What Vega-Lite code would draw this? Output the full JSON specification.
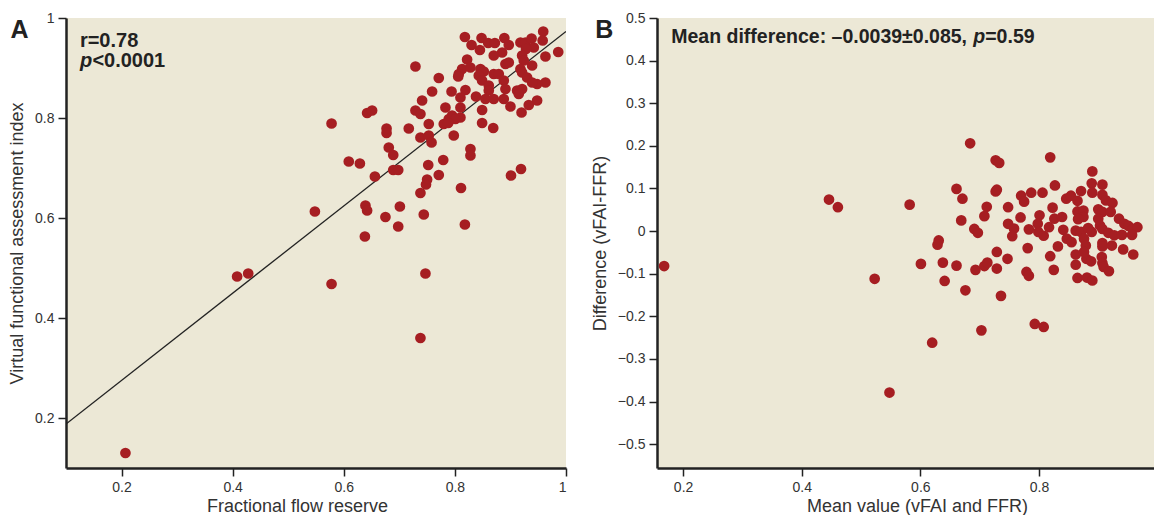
{
  "$schema": "https://vega.github.io/schema/vega-lite/v6.json",
  "padding": {"left": 8, "top": 11, "right": 0, "bottom": 0},
  "background": "white",
  "spacing": 24,
  "datasets": {
    "ptsA": [
      {"ffr":0.818,"vfai":0.962},{"ffr":0.848,"vfai":0.960},{"ffr":0.830,"vfai":0.946},{"ffr":0.845,"vfai":0.936},{"ffr":0.860,"vfai":0.950},{"ffr":0.872,"vfai":0.950},{"ffr":0.889,"vfai":0.960},{"ffr":0.897,"vfai":0.946},{"ffr":0.885,"vfai":0.931},{"ffr":0.870,"vfai":0.925},
      {"ffr":0.918,"vfai":0.951},{"ffr":0.927,"vfai":0.951},{"ffr":0.938,"vfai":0.959},{"ffr":0.959,"vfai":0.973},{"ffr":0.958,"vfai":0.955},{"ffr":0.942,"vfai":0.941},{"ffr":0.928,"vfai":0.938},{"ffr":0.986,"vfai":0.932},{"ffr":0.963,"vfai":0.923},{"ffr":0.939,"vfai":0.905},
      {"ffr":0.921,"vfai":0.925},{"ffr":0.924,"vfai":0.915},{"ffr":0.918,"vfai":0.898},{"ffr":0.921,"vfai":0.891},{"ffr":0.930,"vfai":0.881},{"ffr":0.822,"vfai":0.917},{"ffr":0.813,"vfai":0.898},{"ffr":0.807,"vfai":0.888},{"ffr":0.806,"vfai":0.883},{"ffr":0.828,"vfai":0.901},
      {"ffr":0.846,"vfai":0.898},{"ffr":0.852,"vfai":0.893},{"ffr":0.843,"vfai":0.885},{"ffr":0.849,"vfai":0.875},{"ffr":0.870,"vfai":0.888},{"ffr":0.879,"vfai":0.888},{"ffr":0.891,"vfai":0.908},{"ffr":0.897,"vfai":0.911},{"ffr":0.963,"vfai":0.871},{"ffr":0.948,"vfai":0.868},
      {"ffr":0.939,"vfai":0.871},{"ffr":0.921,"vfai":0.858},{"ffr":0.912,"vfai":0.855},{"ffr":0.915,"vfai":0.848},{"ffr":0.861,"vfai":0.865},{"ffr":0.861,"vfai":0.855},{"ffr":0.855,"vfai":0.838},{"ffr":0.870,"vfai":0.838},{"ffr":0.888,"vfai":0.875},{"ffr":0.891,"vfai":0.858},
      {"ffr":0.888,"vfai":0.838},{"ffr":0.838,"vfai":0.843},{"ffr":0.819,"vfai":0.856},{"ffr":0.794,"vfai":0.853},{"ffr":0.810,"vfai":0.841},{"ffr":0.810,"vfai":0.821},{"ffr":0.948,"vfai":0.835},{"ffr":0.933,"vfai":0.826},{"ffr":0.920,"vfai":0.811},{"ffr":0.900,"vfai":0.823},
      {"ffr":0.849,"vfai":0.816},{"ffr":0.771,"vfai":0.880},{"ffr":0.759,"vfai":0.853},{"ffr":0.741,"vfai":0.835},{"ffr":0.729,"vfai":0.815},{"ffr":0.738,"vfai":0.808},{"ffr":0.783,"vfai":0.821},{"ffr":0.729,"vfai":0.903},{"ffr":0.717,"vfai":0.779},{"ffr":0.753,"vfai":0.788},
      {"ffr":0.780,"vfai":0.788},{"ffr":0.789,"vfai":0.798},{"ffr":0.795,"vfai":0.805},{"ffr":0.810,"vfai":0.801},{"ffr":0.801,"vfai":0.798},{"ffr":0.788,"vfai":0.790},{"ffr":0.849,"vfai":0.790},{"ffr":0.869,"vfai":0.780},{"ffr":0.798,"vfai":0.765},{"ffr":0.738,"vfai":0.761},
      {"ffr":0.753,"vfai":0.765},{"ffr":0.758,"vfai":0.751},{"ffr":0.642,"vfai":0.810},{"ffr":0.651,"vfai":0.815},{"ffr":0.578,"vfai":0.789},{"ffr":0.677,"vfai":0.779},{"ffr":0.677,"vfai":0.770},{"ffr":0.681,"vfai":0.741},{"ffr":0.689,"vfai":0.726},{"ffr":0.828,"vfai":0.738},
      {"ffr":0.828,"vfai":0.725},{"ffr":0.609,"vfai":0.713},{"ffr":0.629,"vfai":0.709},{"ffr":0.779,"vfai":0.716},{"ffr":0.752,"vfai":0.706},{"ffr":0.656,"vfai":0.683},{"ffr":0.689,"vfai":0.696},{"ffr":0.698,"vfai":0.696},{"ffr":0.771,"vfai":0.686},{"ffr":0.750,"vfai":0.677},
      {"ffr":0.748,"vfai":0.667},{"ffr":0.919,"vfai":0.698},{"ffr":0.901,"vfai":0.685},{"ffr":0.811,"vfai":0.660},{"ffr":0.738,"vfai":0.650},{"ffr":0.548,"vfai":0.613},{"ffr":0.639,"vfai":0.625},{"ffr":0.642,"vfai":0.615},{"ffr":0.701,"vfai":0.623},{"ffr":0.675,"vfai":0.602},
      {"ffr":0.744,"vfai":0.607},{"ffr":0.698,"vfai":0.583},{"ffr":0.818,"vfai":0.587},{"ffr":0.638,"vfai":0.563},{"ffr":0.578,"vfai":0.468},{"ffr":0.747,"vfai":0.489},{"ffr":0.738,"vfai":0.360},{"ffr":0.408,"vfai":0.483},{"ffr":0.428,"vfai":0.489},{"ffr":0.207,"vfai":0.130}
    ],
    "fitA": [{"ffr":0.1,"vfai":0.188},{"ffr":1.0,"vfai":0.973}],
    "ptsB": [
      {"mean":0.168,"diff":-0.082},{"mean":0.446,"diff":0.074},{"mean":0.461,"diff":0.056},{"mean":0.523,"diff":-0.112},{"mean":0.548,"diff":-0.379},{"mean":0.582,"diff":0.062},{"mean":0.601,"diff":-0.077},{"mean":0.620,"diff":-0.262},{"mean":0.631,"diff":-0.022},{"mean":0.629,"diff":-0.032},
      {"mean":0.638,"diff":-0.074},{"mean":0.641,"diff":-0.117},{"mean":0.661,"diff":0.099},{"mean":0.671,"diff":0.076},{"mean":0.669,"diff":0.025},{"mean":0.661,"diff":-0.081},{"mean":0.676,"diff":-0.139},{"mean":0.684,"diff":0.206},{"mean":0.691,"diff":0.005},{"mean":0.697,"diff":-0.004},
      {"mean":0.693,"diff":-0.091},{"mean":0.708,"diff":-0.082},{"mean":0.713,"diff":-0.074},{"mean":0.703,"diff":-0.233},{"mean":0.712,"diff":0.057},{"mean":0.708,"diff":0.035},{"mean":0.727,"diff":0.093},{"mean":0.729,"diff":0.097},{"mean":0.727,"diff":0.166},{"mean":0.733,"diff":0.160},
      {"mean":0.729,"diff":-0.049},{"mean":0.729,"diff":-0.088},{"mean":0.736,"diff":-0.152},{"mean":0.747,"diff":-0.065},{"mean":0.748,"diff":0.056},{"mean":0.748,"diff":0.017},{"mean":0.758,"diff":0.006},{"mean":0.755,"diff":-0.012},{"mean":0.770,"diff":0.083},{"mean":0.775,"diff":0.069},
      {"mean":0.769,"diff":0.032},{"mean":0.787,"diff":0.090},{"mean":0.783,"diff":0.004},{"mean":0.781,"diff":-0.040},{"mean":0.779,"diff":-0.096},{"mean":0.783,"diff":-0.105},{"mean":0.793,"diff":-0.218},{"mean":0.808,"diff":-0.225},{"mean":0.806,"diff":0.090},{"mean":0.801,"diff":0.037},
      {"mean":0.798,"diff":0.017},{"mean":0.799,"diff":-0.002},{"mean":0.808,"diff":-0.011},{"mean":0.819,"diff":0.173},{"mean":0.827,"diff":0.107},{"mean":0.823,"diff":0.055},{"mean":0.819,"diff":-0.059},{"mean":0.832,"diff":-0.036},{"mean":0.825,"diff":-0.091},{"mean":0.817,"diff":0.009},
      {"mean":0.826,"diff":0.029},{"mean":0.839,"diff":0.033},{"mean":0.841,"diff":0.003},{"mean":0.846,"diff":0.076},{"mean":0.854,"diff":0.083},{"mean":0.865,"diff":0.071},{"mean":0.871,"diff":0.094},{"mean":0.847,"diff":-0.018},{"mean":0.855,"diff":-0.026},{"mean":0.862,"diff":0.001},
      {"mean":0.871,"diff":-0.002},{"mean":0.865,"diff":0.046},{"mean":0.875,"diff":0.048},{"mean":0.875,"diff":0.033},{"mean":0.866,"diff":0.028},{"mean":0.876,"diff":-0.018},{"mean":0.879,"diff":-0.034},{"mean":0.862,"diff":-0.055},{"mean":0.862,"diff":-0.079},{"mean":0.865,"diff":-0.110},
      {"mean":0.880,"diff":-0.065},{"mean":0.888,"diff":-0.071},{"mean":0.881,"diff":-0.109},{"mean":0.890,"diff":-0.116},{"mean":0.890,"diff":0.140},{"mean":0.889,"diff":0.112},{"mean":0.907,"diff":0.109},{"mean":0.890,"diff":0.090},{"mean":0.907,"diff":0.085},{"mean":0.913,"diff":0.072},
      {"mean":0.924,"diff":0.066},{"mean":0.900,"diff":0.051},{"mean":0.907,"diff":0.045},{"mean":0.921,"diff":0.045},{"mean":0.900,"diff":0.029},{"mean":0.903,"diff":0.013},{"mean":0.907,"diff":0.005},{"mean":0.917,"diff":-0.004},{"mean":0.927,"diff":-0.010},{"mean":0.883,"diff":0.007},
      {"mean":0.889,"diff":-0.002},{"mean":0.935,"diff":0.029},{"mean":0.944,"diff":0.017},{"mean":0.951,"diff":0.012},{"mean":0.958,"diff":0.005},{"mean":0.966,"diff":0.009},{"mean":0.940,"diff":-0.009},{"mean":0.957,"diff":-0.009},{"mean":0.907,"diff":-0.028},{"mean":0.907,"diff":-0.036},
      {"mean":0.923,"diff":-0.034},{"mean":0.942,"diff":-0.043},{"mean":0.959,"diff":-0.055},{"mean":0.906,"diff":-0.061},{"mean":0.907,"diff":-0.075},{"mean":0.909,"diff":-0.084},{"mean":0.918,"diff":-0.094},{"mean":0.876,"diff":-0.049}
    ]
  },
  "config": {
    "view": {"stroke": null, "fill": "#ECE8D6"},
    "axis": {
      "grid": false,
      "domainColor": "#222222", "domainWidth": 2.5,
      "tickColor": "#222222", "tickWidth": 1.5, "tickSize": 8,
      "labelFont": "Liberation Sans", "labelFontSize": 14, "labelColor": "#333333", "labelPadding": 4,
      "titleFont": "Liberation Sans", "titleFontSize": 18, "titleFontWeight": "normal", "titleColor": "#333333", "titlePadding": 8
    },
    "axisX": {"titlePadding": 3},
    "title": {"font": "Liberation Sans", "fontSize": 25, "fontWeight": "bold", "color": "#222222", "anchor": "start", "frame": "bounds"}
  },
  "hconcat": [
    {
      "width": 500, "height": 450,
      "title": {"text": "A", "dy": 36, "dx": 2},
      "layer": [
        {"mark": {"type": "rule", "color": "#AAAAAA", "strokeDash": [5, 4], "strokeWidth": 1.2}, "encoding": {"x": {"datum": 0.8, "type": "quantitative", "scale": {"domain": [0.1, 1.0], "nice": false}}}},
        {"mark": {"type": "rule", "color": "#AAAAAA", "strokeDash": [5, 4], "strokeWidth": 1.2}, "encoding": {"y": {"datum": 0.823, "type": "quantitative", "scale": {"domain": [0.1, 1.0], "nice": false}}}},
        {"data": {"name": "fitA"}, "mark": {"type": "line", "color": "#222222", "strokeWidth": 1.3, "clip": true},
         "encoding": {"x": {"field": "ffr", "type": "quantitative"}, "y": {"field": "vfai", "type": "quantitative"}}},
        {"data": {"name": "ptsA"}, "mark": {"type": "circle", "size": 115, "opacity": 1, "color": "#A61E22"},
         "encoding": {
           "x": {"field": "ffr", "type": "quantitative", "scale": {"domain": [0.1, 1.0], "nice": false, "zero": false},
                 "axis": {"values": [0.2, 0.4, 0.6, 0.8, 1.0], "format": "~g", "title": "Fractional flow reserve", "titleX": 231}},
           "y": {"field": "vfai", "type": "quantitative", "scale": {"domain": [0.1, 1.0], "nice": false, "zero": false},
                 "axis": {"values": [0.2, 0.4, 0.6, 0.8, 1.0], "format": "~g", "title": "Virtual functional assessment index"}}
         }},
        {"data": {"values": [{"ffr": 0.125, "vfai": 0.942, "t": "r=0.78"}]}, "mark": {"type": "text", "align": "left", "baseline": "alphabetic", "font": "Liberation Sans", "fontWeight": "bold", "fontSize": 20, "color": "#222222"},
         "encoding": {"x": {"field": "ffr", "type": "quantitative"}, "y": {"field": "vfai", "type": "quantitative"}, "text": {"field": "t"}}},
        {"data": {"values": [{"ffr": 0.125, "vfai": 0.902, "t": "p"}]}, "mark": {"type": "text", "align": "left", "baseline": "alphabetic", "font": "Liberation Sans", "fontWeight": "bold", "fontStyle": "italic", "fontSize": 20, "color": "#222222"},
         "encoding": {"x": {"field": "ffr", "type": "quantitative"}, "y": {"field": "vfai", "type": "quantitative"}, "text": {"field": "t"}}},
        {"data": {"values": [{"ffr": 0.125, "vfai": 0.902, "t": "<0.0001"}]}, "mark": {"type": "text", "align": "left", "baseline": "alphabetic", "dx": 12.5, "font": "Liberation Sans", "fontWeight": "bold", "fontSize": 20, "color": "#222222"},
         "encoding": {"x": {"field": "ffr", "type": "quantitative"}, "y": {"field": "vfai", "type": "quantitative"}, "text": {"field": "t"}}}
      ]
    },
    {
      "width": 497, "height": 450,
      "title": {"text": "B", "dy": 36, "dx": 4},
      "layer": [
        {"mark": {"type": "rule", "color": "#AAAAAA", "strokeDash": [5, 4], "strokeWidth": 1.2}, "encoding": {"y": {"datum": 0.162, "type": "quantitative", "scale": {"domain": [-0.556, 0.5], "nice": false}}}},
        {"mark": {"type": "rule", "color": "#AAAAAA", "strokeDash": [5, 4], "strokeWidth": 1.2}, "encoding": {"y": {"datum": -0.170, "type": "quantitative"}}},
        {"mark": {"type": "rule", "color": "#222222", "strokeWidth": 1.5}, "encoding": {"y": {"datum": -0.0039, "type": "quantitative"}}},
        {"data": {"name": "ptsB"}, "mark": {"type": "circle", "size": 115, "opacity": 1, "color": "#A61E22"},
         "encoding": {
           "x": {"field": "mean", "type": "quantitative", "scale": {"domain": [0.156, 0.994], "nice": false, "zero": false},
                 "axis": {"values": [0.2, 0.4, 0.6, 0.8], "format": "~g", "title": "Mean value (vFAI and FFR)", "titleX": 260}},
           "y": {"field": "diff", "type": "quantitative", "scale": {"domain": [-0.556, 0.5], "nice": false, "zero": false},
                 "axis": {"values": [-0.5, -0.4, -0.3, -0.2, -0.1, 0, 0.1, 0.2, 0.3, 0.4, 0.5], "format": "~g", "title": "Difference (vFAI-FFR)"}}
         }},
        {"data": {"values": [{"mean": 0.180, "diff": 0.441, "t": "Mean difference: \u20130.0039\u00b10.085, "}]}, "mark": {"type": "text", "align": "left", "baseline": "alphabetic", "font": "Liberation Sans", "fontWeight": "bold", "fontSize": 19.5, "color": "#222222"},
         "encoding": {"x": {"field": "mean", "type": "quantitative"}, "y": {"field": "diff", "type": "quantitative"}, "text": {"field": "t"}}},
        {"data": {"values": [{"mean": 0.180, "diff": 0.441, "t": "p"}]}, "mark": {"type": "text", "align": "left", "baseline": "alphabetic", "dx": 302, "font": "Liberation Sans", "fontWeight": "bold", "fontStyle": "italic", "fontSize": 19.5, "color": "#222222"},
         "encoding": {"x": {"field": "mean", "type": "quantitative"}, "y": {"field": "diff", "type": "quantitative"}, "text": {"field": "t"}}},
        {"data": {"values": [{"mean": 0.180, "diff": 0.441, "t": "=0.59"}]}, "mark": {"type": "text", "align": "left", "baseline": "alphabetic", "dx": 314, "font": "Liberation Sans", "fontWeight": "bold", "fontSize": 19.5, "color": "#222222"},
         "encoding": {"x": {"field": "mean", "type": "quantitative"}, "y": {"field": "diff", "type": "quantitative"}, "text": {"field": "t"}}}
      ]
    }
  ]
}
